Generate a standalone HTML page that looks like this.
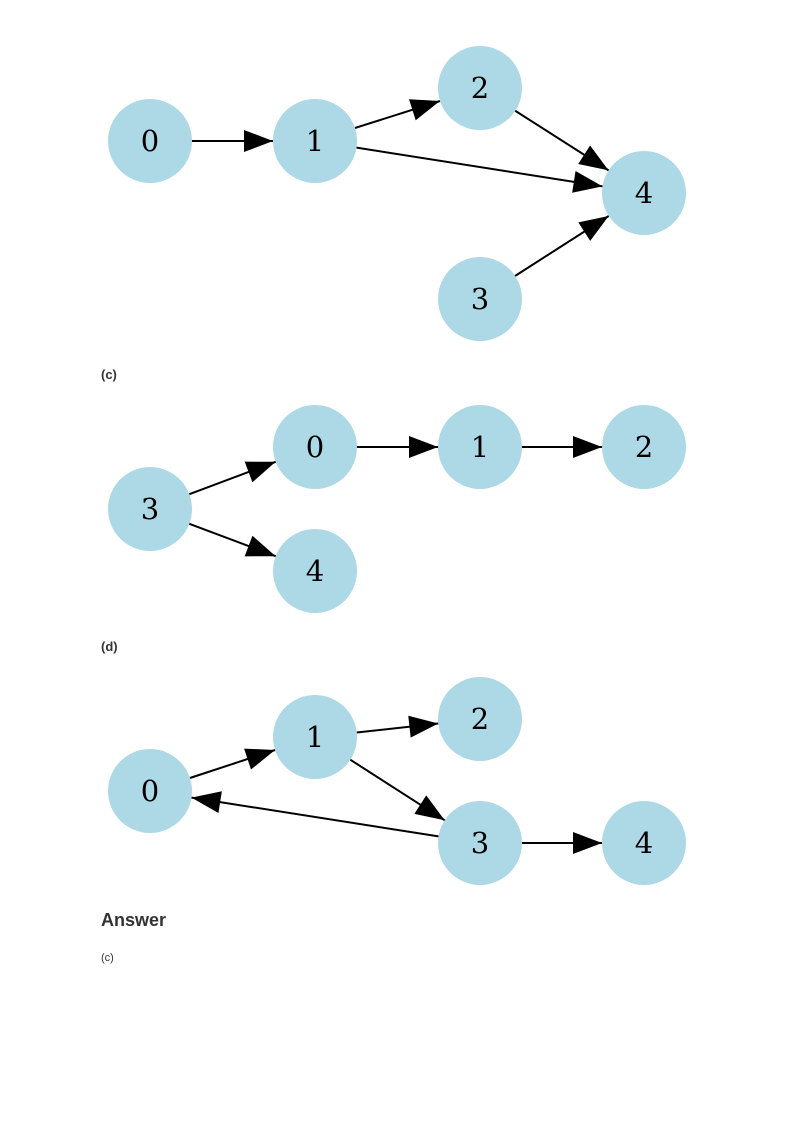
<!DOCTYPE html>
<html><head><style>
html,body{margin:0;padding:0;background:#fff;width:793px;height:1123px;overflow:hidden}
.t{position:absolute;font-family:"Liberation Sans",sans-serif;color:#333;left:101px}
</style></head><body>
<svg width="793" height="1123" style="position:absolute;left:0;top:0">
<defs><marker id="a" markerUnits="userSpaceOnUse" markerWidth="32" markerHeight="24" refX="29" refY="11" orient="auto" style="overflow:visible"><path d="M0,0 L29,11 L0,22 z" fill="#000"/></marker></defs>
<g stroke="#000" stroke-width="2" marker-end="url(#a)">
<line x1="192" y1="141" x2="273" y2="141"/>
<line x1="355" y1="128" x2="440" y2="101"/>
<line x1="356.5" y1="147.6" x2="602.5" y2="186.4"/>
<line x1="515" y1="110.6" x2="608.6" y2="170.4"/>
<line x1="515" y1="276" x2="608.7" y2="216"/>
<line x1="189.3" y1="494.2" x2="275.7" y2="461.8"/>
<line x1="357" y1="447" x2="438" y2="447"/>
<line x1="522" y1="447" x2="602" y2="447"/>
<line x1="189.3" y1="523.8" x2="275.7" y2="556.2"/>
<line x1="189.9" y1="778" x2="275.1" y2="750"/>
<line x1="356.7" y1="732.5" x2="438.3" y2="723.5"/>
<line x1="350.3" y1="759.7" x2="444.7" y2="820.3"/>
<line x1="438.5" y1="836.4" x2="191.5" y2="797.6"/>
<line x1="522" y1="843" x2="602" y2="843"/>
</g>
<g fill="#add8e6">
<circle cx="150" cy="141" r="42"/><circle cx="315" cy="141" r="42"/><circle cx="480" cy="88" r="42"/><circle cx="644" cy="193" r="42"/><circle cx="480" cy="299" r="42"/>
<circle cx="150" cy="509" r="42"/><circle cx="315" cy="447" r="42"/><circle cx="480" cy="447" r="42"/><circle cx="644" cy="447" r="42"/><circle cx="315" cy="571" r="42"/>
<circle cx="150" cy="791" r="42"/><circle cx="315" cy="737" r="42"/><circle cx="480" cy="719" r="42"/><circle cx="480" cy="843" r="42"/><circle cx="644" cy="843" r="42"/>
</g>
<g font-family="DejaVu Serif, Liberation Serif, serif" font-size="29" text-anchor="middle" fill="#000">
<text x="150" y="151">0</text><text x="315" y="151">1</text><text x="480" y="98">2</text><text x="644" y="203">4</text><text x="480" y="309">3</text>
<text x="150" y="519">3</text><text x="315" y="457">0</text><text x="480" y="457">1</text><text x="644" y="457">2</text><text x="315" y="581">4</text>
<text x="150" y="801">0</text><text x="315" y="747">1</text><text x="480" y="729">2</text><text x="480" y="853">3</text><text x="644" y="853">4</text>
</g>
</svg>
<div class="t" style="top:367px;font-size:13px;font-weight:bold">(c)</div>
<div class="t" style="top:639px;font-size:13px;font-weight:bold">(d)</div>
<div class="t" style="top:910px;font-size:18px;font-weight:bold">Answer</div>
<div class="t" style="top:952px;font-size:11px">(c)</div>
</body></html>
